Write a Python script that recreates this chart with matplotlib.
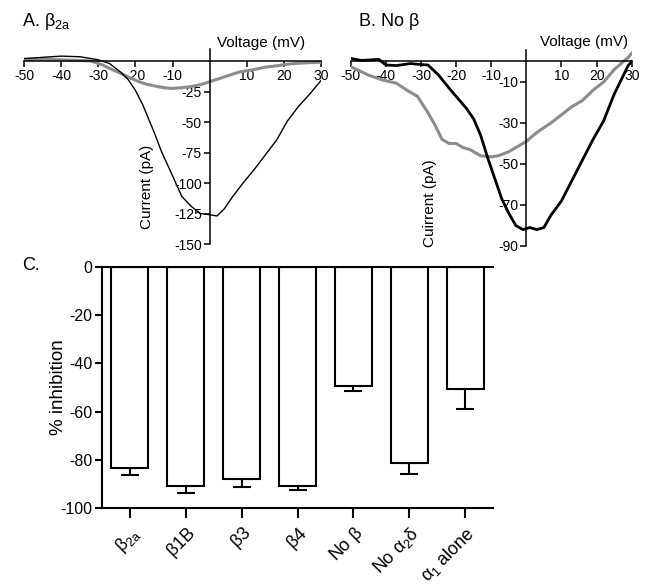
import numpy as np
import matplotlib
matplotlib.use("Agg")
import matplotlib.pyplot as plt

plt.rcParams["font.family"] = ["Liberation Sans", "DejaVu Sans"]
plt.rcParams["mathtext.fontset"] = "custom"
plt.rcParams["mathtext.rm"] = "Liberation Sans"
plt.rcParams["mathtext.it"] = "Liberation Sans"
plt.rcParams["axes.unicode_minus"] = False

# ------------------------------------------------------------
# Panel A: beta2a I-V traces
# ------------------------------------------------------------
a_black_v = [-50, -45, -40, -35, -30, -27, -24, -22, -20, -18, -15, -13, -10, -7.5, -5, -2.5,
             0, 2, 4, 6, 9, 12, 15, 18, 21, 24, 27, 30]
a_black_i = [2, 3, 4, 3.5, 1, -2, -9, -15, -24, -36, -58, -74, -94, -111, -119, -125,
             -126, -127, -121, -112, -100, -89, -77, -65, -49, -37, -27, -16]
a_gray_v = [-50, -45, -40, -35, -32, -29, -27, -24, -22, -19, -17, -14, -12, -10, -8, -5, -2,
            0, 2, 4, 6, 8, 10, 12, 15, 18, 20, 23, 26, 30]
a_gray_i = [1, 1.5, 1, 0.5, 0, -3, -6, -10, -13, -17, -19, -21, -22, -22.5, -22, -21, -19,
            -17, -15, -13, -11, -9, -8, -7, -5, -4, -3, -2, -1.5, -1]

# ------------------------------------------------------------
# Panel B: no beta I-V traces
# ------------------------------------------------------------
b_black_v = [-50, -47, -45, -42, -40, -37, -33, -30, -28, -25, -22, -20, -17, -15, -13, -11, -9,
             -7, -5, -3, -1, 1, 3, 5, 7, 10, 13, 16, 19, 22, 25, 27, 29, 30]
b_black_i = [1.5, 0.5, 0.7, 1, -1.7, -2, -1, -1.5, -1.7, -6.6, -13, -17, -23, -28, -36, -47, -57,
             -67, -74, -80, -82, -81, -82, -81, -75, -68, -58, -48, -38, -29, -16, -9, -2, 0]
b_gray_v = [-50, -45, -41, -37, -34, -31, -28, -26, -24, -22, -20, -18, -16, -13, -10, -8, -5,
            -3, 0, 2, 4, 7, 10, 13, 16, 19, 22, 25, 27, 29, 30]
b_gray_i = [-2.5, -6.6, -9, -10.6, -14, -17, -25, -31, -38, -40, -40, -42, -43, -46, -46.5, -46,
            -44, -42, -39, -36, -33.4, -30, -26, -22, -19, -14, -10, -4, -1, 2, 4]

# ------------------------------------------------------------
# Panel C: % inhibition
# ------------------------------------------------------------
c_labels = [r"$\beta_{2a}$", r"$\beta$1B", r"$\beta$3", r"$\beta$4", r"No $\beta$",
            r"No $\alpha_2\delta$", r"$\alpha_1$ alone"]
c_values = [-83.4, -91.0, -87.8, -91.0, -49.5, -81.5, -50.5]
c_errors = [2.9, 2.8, 3.3, 1.7, 2.0, 4.5, 8.3]

W, H = 647, 587
fig = plt.figure(figsize=(W / 100, H / 100), dpi=100)


def px_rect(left, top, right, bottom):
    return [left / W, 1 - bottom / H, (right - left) / W, (bottom - top) / H]


def iv_axes(ax, xlim, ylim, yticks):
    ax.set_xlim(*xlim)
    ax.set_ylim(*ylim)
    for s in ["top", "right"]:
        ax.spines[s].set_visible(False)
    ax.spines["left"].set_position(("data", 0))
    ax.spines["bottom"].set_position(("data", 0))
    for s in ["left", "bottom"]:
        ax.spines[s].set_linewidth(1.1)
    ax.set_xticks([-50, -40, -30, -20, -10, 10, 20, 30])
    ax.set_xticklabels(["-50", "-40", "-30", "-20", "-10", "10", "20", "30"])
    ax.set_yticks(yticks)
    ax.set_yticklabels([str(t) for t in yticks])
    ax.tick_params(direction="out", length=4, width=1.1, labelsize=10, pad=1.5)
    ax.patch.set_visible(False)


# Panel A
axA = fig.add_axes(px_rect(24, 48.8, 321, 244))
axA.plot(a_gray_v, a_gray_i, color="#8c8c8c", lw=2.2)
axA.plot(a_black_v, a_black_i, color="black", lw=1.0)
iv_axes(axA, (-50, 30), (-150, 10), [-150, -125, -100, -75, -50, -25])

fig.text(22 / W, 1 - 22 / H, r"A. $\beta_{2a}$", fontsize=13, va="center", ha="left")
fig.text(261 / W, 1 - 43 / H, "Voltage (mV)", fontsize=11, va="center", ha="center")
fig.text(147 / W, 1 - 187 / H, "Current (pA)", fontsize=11, va="center", ha="center",
         rotation=90)

# Panel B
axB = fig.add_axes(px_rect(350.7, 50.2, 631.7, 246))
axB.plot(b_gray_v, b_gray_i, color="#8c8c8c", lw=2.2)
axB.plot(b_black_v, b_black_i, color="black", lw=2.0)
iv_axes(axB, (-50, 30), (-90, 5.5), [-90, -70, -50, -30, -10])

fig.text(358 / W, 1 - 22 / H, r"B. No $\beta$", fontsize=13, va="center", ha="left")
fig.text(584 / W, 1 - 42 / H, "Voltage (mV)", fontsize=11, va="center", ha="center")
fig.text(430 / W, 1 - 203 / H, "Cuirrent (pA)", fontsize=11, va="center", ha="center",
         rotation=90)

# Panel C
axC = fig.add_axes(px_rect(102, 267, 493, 508))
x = np.arange(len(c_values))
axC.bar(x, c_values, width=0.66, color="white", edgecolor="black", linewidth=1.5, zorder=2)
axC.errorbar(x, c_values, yerr=[c_errors, [0] * len(c_errors)], fmt="none", ecolor="black",
             elinewidth=1.5, capsize=6.5, capthick=1.5, zorder=1)
axC.set_xlim(-0.5, len(c_values) - 0.5)
axC.set_ylim(-100, 0)
axC.spines["right"].set_visible(False)
for s in ["left", "top", "bottom"]:
    axC.spines[s].set_linewidth(1.5)
axC.set_yticks([0, -20, -40, -60, -80, -100])
axC.set_xticks(x)
axC.set_xticklabels(c_labels, rotation=45, ha="right", rotation_mode="anchor", fontsize=13)
axC.tick_params(axis="y", direction="out", length=5, width=1.5, labelsize=11.5, pad=2)
axC.tick_params(axis="x", direction="out", length=7, width=1.5, pad=4)
axC.set_ylabel("% inhibition", fontsize=13.5, labelpad=-5)

fig.text(22 / W, 1 - 265 / H, "C.", fontsize=13, va="center", ha="left")

fig.savefig("out.png", dpi=100)
